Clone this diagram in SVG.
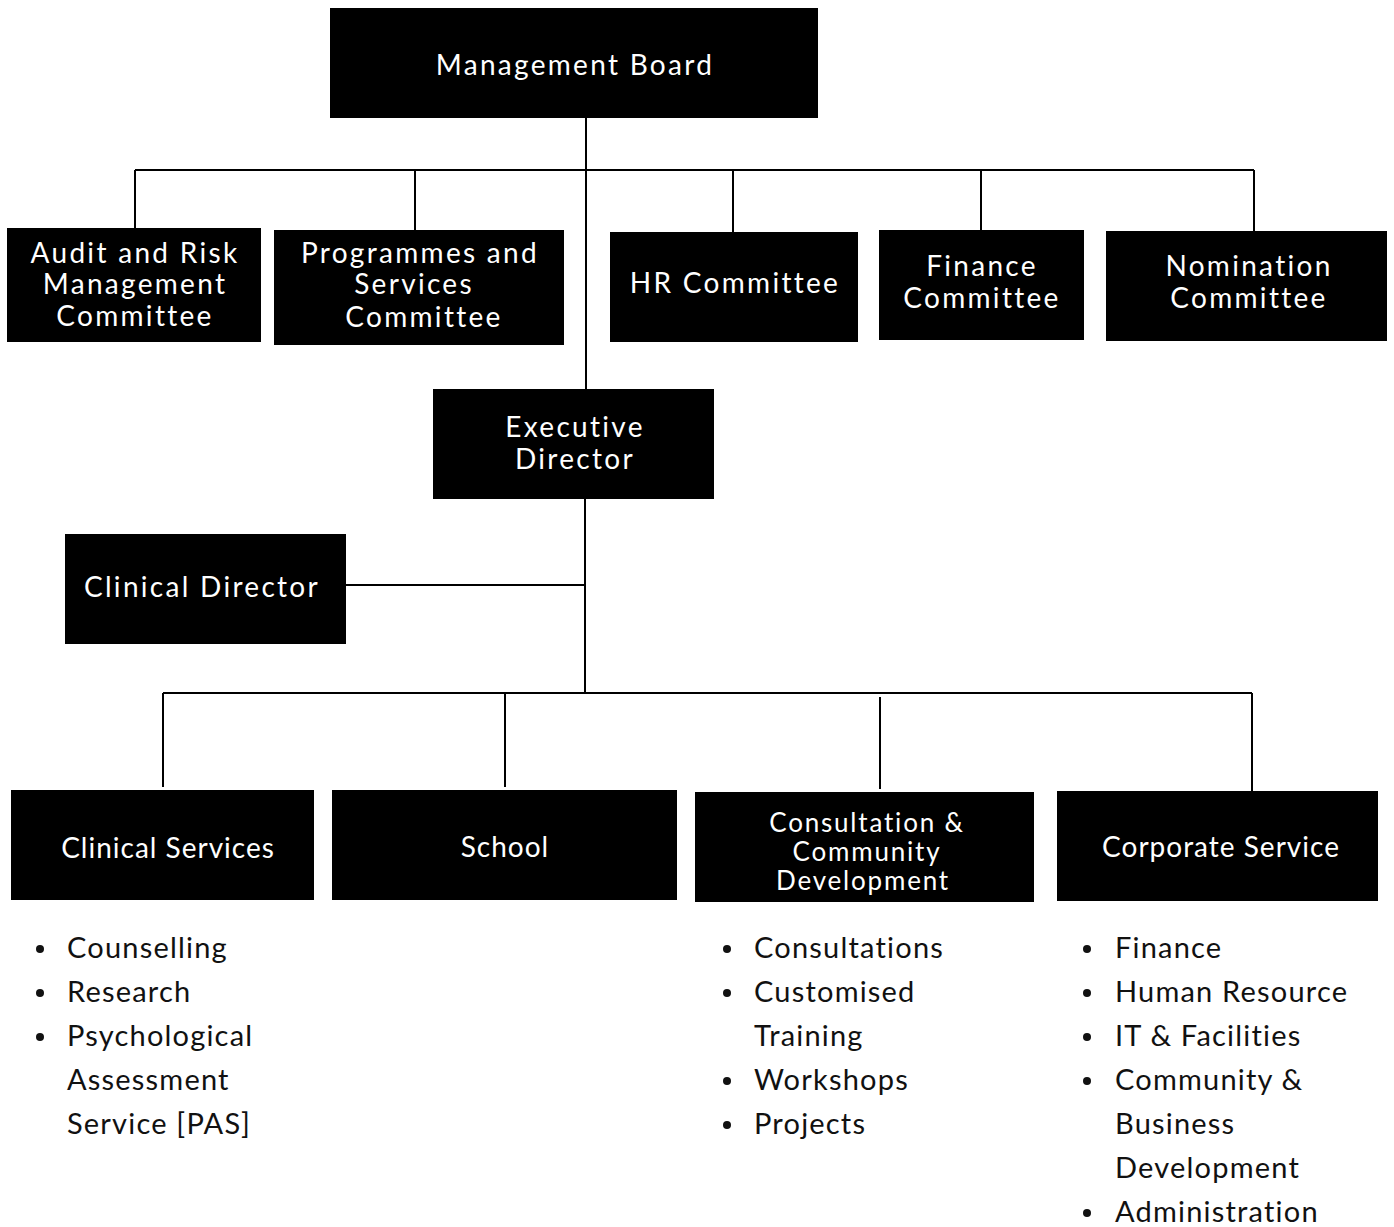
<svg xmlns="http://www.w3.org/2000/svg" width="1394" height="1227" viewBox="0 0 1394 1227">
<style>
.box{fill:#000}
.bt{fill:#fff;font-family:Lato,"Noto Sans",sans-serif;font-size:28px;letter-spacing:2.3px;text-anchor:middle}
.bs{letter-spacing:1px}
.bc{font-size:26px;letter-spacing:1.8px}
.lt{fill:#111;font-family:Lato,"Noto Sans",sans-serif;font-size:29px;letter-spacing:1.2px}
.cn{stroke:#000;stroke-width:2;fill:none}
.bl{fill:#111}
</style>
<rect width="1394" height="1227" fill="#fff"/>
<g id="connectors">
<path class="cn" d="M586 118V389M135 170H1254M135 170V228M415 170V230M733 170V232M981 170V230M1254 170V231"/>
<path class="cn" d="M585 499V693M346 585H585M163 693H1252M163 693V787M505 693V787M880 697V789M1252 693V791"/>
</g>
<g id="management-board"><rect class="box" x="330" y="8" width="488" height="110"/><text class="bt" x="575" y="75">Management Board</text></g>
<g id="audit"><rect class="box" x="7" y="228" width="254" height="114"/><text class="bt" x="135" y="263">Audit and Risk</text><text class="bt" x="135" y="294">Management</text><text class="bt" x="135" y="326">Committee</text></g>
<g id="programmes"><rect class="box" x="274" y="230" width="290" height="115"/><text class="bt" x="420" y="263">Programmes and</text><text class="bt" x="414" y="294">Services</text><text class="bt" x="424" y="327">Committee</text></g>
<g id="hr"><rect class="box" x="610" y="232" width="248" height="110"/><text class="bt" x="735" y="293">HR Committee</text></g>
<g id="finance"><rect class="box" x="879" y="230" width="205" height="110"/><text class="bt" x="982" y="276">Finance</text><text class="bt" x="982" y="308">Committee</text></g>
<g id="nomination"><rect class="box" x="1106" y="231" width="281" height="110"/><text class="bt" x="1249" y="276">Nomination</text><text class="bt" x="1249" y="308">Committee</text></g>
<g id="executive-director"><rect class="box" x="433" y="389" width="281" height="110"/><text class="bt" x="575" y="437">Executive</text><text class="bt" x="575" y="469">Director</text></g>
<g id="clinical-director"><rect class="box" x="65" y="534" width="281" height="110"/><text class="bt" x="202" y="597">Clinical Director</text></g>
<g id="clinical-services"><rect class="box" x="11" y="790" width="303" height="110"/><text class="bt bs" x="168" y="858">Clinical Services</text></g>
<g id="school"><rect class="box" x="332" y="790" width="345" height="110"/><text class="bt bs" x="505" y="857">School</text></g>
<g id="consultation"><rect class="box" x="695" y="792" width="339" height="110"/><text class="bt bc" x="867" y="832">Consultation &amp;</text><text class="bt bc" x="867" y="861">Community</text><text class="bt bc" x="863" y="890">Development</text></g>
<g id="corporate"><rect class="box" x="1057" y="791" width="321" height="110"/><text class="bt bs" x="1221" y="857">Corporate Service</text></g>
<g id="list-clinical">
<circle class="bl" cx="40" cy="949" r="4"/><circle class="bl" cx="40" cy="993" r="4"/><circle class="bl" cx="40" cy="1037" r="4"/>
<text class="lt" x="67" y="958">Counselling</text><text class="lt" x="67" y="1002">Research</text><text class="lt" x="67" y="1046">Psychological</text><text class="lt" x="67" y="1090">Assessment</text><text class="lt" x="67" y="1134">Service [PAS]</text>
</g>
<g id="list-consultation">
<circle class="bl" cx="727" cy="949" r="4"/><circle class="bl" cx="727" cy="993" r="4"/><circle class="bl" cx="727" cy="1081" r="4"/><circle class="bl" cx="727" cy="1125" r="4"/>
<text class="lt" x="754" y="958">Consultations</text><text class="lt" x="754" y="1002">Customised</text><text class="lt" x="754" y="1046">Training</text><text class="lt" x="754" y="1090">Workshops</text><text class="lt" x="754" y="1134">Projects</text>
</g>
<g id="list-corporate">
<circle class="bl" cx="1087" cy="949" r="4"/><circle class="bl" cx="1087" cy="993" r="4"/><circle class="bl" cx="1087" cy="1037" r="4"/><circle class="bl" cx="1087" cy="1081" r="4"/><circle class="bl" cx="1087" cy="1213" r="4"/>
<text class="lt" x="1115" y="958">Finance</text><text class="lt" x="1115" y="1002">Human Resource</text><text class="lt" x="1115" y="1046">IT &amp; Facilities</text><text class="lt" x="1115" y="1090">Community &amp;</text><text class="lt" x="1115" y="1134">Business</text><text class="lt" x="1115" y="1178">Development</text><text class="lt" x="1115" y="1222">Administration</text>
</g>
</svg>
